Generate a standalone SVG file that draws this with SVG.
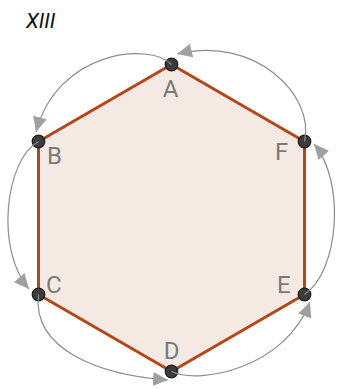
<svg xmlns="http://www.w3.org/2000/svg" width="337" height="389" viewBox="0 0 337 389">
<defs>
<style>
.hex{fill:#f5e9e3;stroke:#b4461a;stroke-width:3;stroke-linejoin:round}
.dot{fill:#3c3c3c;stroke:#1c1c1c;stroke-width:1.2}
.lbl{font-family:Roboto,"Liberation Sans",sans-serif;font-size:24px;fill:#7a7a7a}
.arc{fill:none;stroke:#8c8c8c;stroke-width:1.2;marker-end:url(#ah)}
.title{font-family:Roboto,"Liberation Sans",sans-serif;font-size:21px;font-style:italic;fill:#111}
</style>
<marker id="ah" markerUnits="userSpaceOnUse" markerWidth="16" markerHeight="14" refX="15" refY="7" orient="auto">
<path d="M0,0 L15,7 L0,14 Z" fill="#a0a0a0"/>
</marker>
</defs>
<rect width="337" height="389" fill="#ffffff"/>
<text class="title" x="26" y="28">XIII</text>
<polygon id="hexagon" class="hex" points="171.5,64.5 38.5,141.5 38.5,294.5 171.5,371.5 304.5,294.5 304.5,141.5"/>
<g id="A"><circle class="dot" cx="171.5" cy="64.5" r="6.3"/><text class="lbl" x="170.5" y="97" text-anchor="middle">A</text></g>
<g id="B"><circle class="dot" cx="38.5" cy="141.5" r="6.3"/><text class="lbl" x="47" y="164">B</text></g>
<g id="C"><circle class="dot" cx="38.5" cy="294.5" r="6.3"/><text class="lbl" x="46" y="293">C</text></g>
<g id="D"><circle class="dot" cx="171.5" cy="371.5" r="6.3"/><text class="lbl" x="171.5" y="359" text-anchor="middle">D</text></g>
<g id="E"><circle class="dot" cx="304.5" cy="294.5" r="6.3"/><text class="lbl" x="277" y="293">E</text></g>
<g id="F"><circle class="dot" cx="304.5" cy="141.5" r="6.3"/><text class="lbl" x="275" y="160">F</text></g>
<g id="connectors">
<path class="arc" d="M171.5,64.5 C150,42 58,50 36,132"/>
<path class="arc" d="M38.5,141.5 C5,160 -5,250 29,289"/>
<path class="arc" d="M38.5,294.5 C32,350 100,375 168,380"/>
<path class="arc" d="M171.5,371.5 C200,385 285,368 310,302"/>
<path class="arc" d="M304.5,294.5 C340,270 345,180 314,144"/>
<path class="arc" d="M304.5,141.5 C315,95 255,35 177,54"/>
</g>
</svg>
